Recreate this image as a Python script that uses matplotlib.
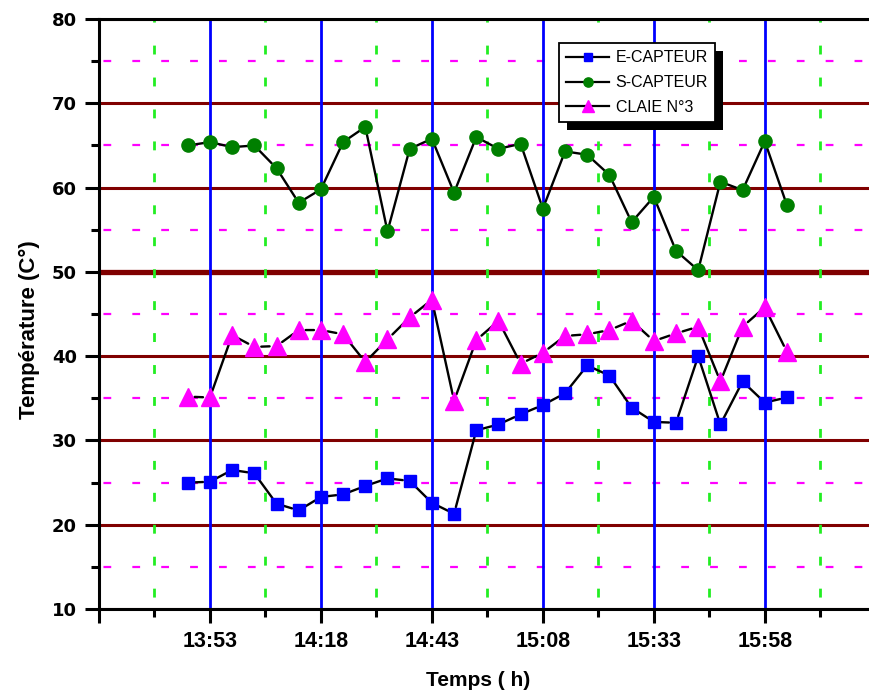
# Températures E-CAPTEUR / S-CAPTEUR / CLAIE N°3 en fonction du temps
import numpy as np
import matplotlib.pyplot as plt
from matplotlib.ticker import MultipleLocator, AutoMinorLocator
from matplotlib.lines import Line2D
from matplotlib.patches import Rectangle
from matplotlib.transforms import IdentityTransform

# Data
times = ['13:48', '13:53', '13:58', '14:03', '14:08', '14:13', '14:18', '14:23',
         '14:28', '14:33', '14:38', '14:43', '14:48', '14:53', '14:58', '15:03',
         '15:08', '15:13', '15:18', '15:23', '15:28', '15:33', '15:38', '15:43',
         '15:48', '15:53', '15:58', '16:03']
e_capteur = [25.0, 25.1, 26.5, 26.1, 22.5, 21.7, 23.3, 23.6, 24.6, 25.5, 25.2, 22.6,
             21.3, 31.2, 31.9, 33.1, 34.2, 35.6, 38.9, 37.7, 33.9, 32.2, 32.1, 40.0,
             31.9, 37.0, 34.5, 35.1]
s_capteur = [65.0, 65.4, 64.8, 65.0, 62.3, 58.2, 59.8, 65.4, 67.2, 54.8, 64.6, 65.8,
             59.4, 66.0, 64.6, 65.2, 57.5, 64.3, 63.9, 61.5, 55.9, 58.9, 52.5, 50.2,
             60.7, 59.7, 65.5, 57.9]
claie = [35.2, 35.1, 42.5, 41.1, 41.2, 43.1, 43.1, 42.6, 39.3, 42.0, 44.6, 46.7,
         34.7, 41.9, 44.2, 39.1, 40.4, 42.4, 42.6, 43.1, 44.2, 41.8, 42.7, 43.5,
         37.0, 43.5, 45.8, 40.5]
series_names = ['E-CAPTEUR', 'S-CAPTEUR', 'CLAIE N°3']
tick_times = ['13:28', '13:53', '14:18', '14:43', '15:08', '15:33', '15:58', '16:23']
tick_labels = ['', '13:53', '14:18', '14:43', '15:08', '15:33', '15:58', '']


def to_min(s):
    h, m = s.split(':')
    return int(h) * 60 + int(m)


x = np.array([to_min(t) for t in times])
xticks = [to_min(t) for t in tick_times]

sans = 'Liberation Sans'

fig = plt.figure(figsize=(8.69, 6.95), dpi=100)
# axes run past the right edge of the figure, as in the (cropped) original
ax = fig.add_axes([0.1139, 0.1237, 0.9194, 0.8489])
ax.set_xlim(to_min('13:28'), to_min('16:28'))
ax.set_ylim(10, 80)

# grids
ax.set_axisbelow(True)
ax.yaxis.set_zorder(0.5)
ax.xaxis.set_zorder(0.6)
ax.yaxis.set_major_locator(MultipleLocator(10))
ax.yaxis.set_minor_locator(AutoMinorLocator(2))
ax.set_xticks(xticks, tick_labels)
ax.xaxis.set_minor_locator(AutoMinorLocator(2))
ax.grid(which='major', axis='y', color='#800000', lw=2.2)
ax.grid(which='minor', axis='y', color='#ff00ff', lw=1.6, ls=(11.0, (3.5, 9.5)))
ax.grid(which='major', axis='x', color='#0000ff', lw=2.0)
ax.grid(which='minor', axis='x', color='#22ee22', lw=2.0, ls=(7.2, (3.2, 8.3)))
ax.axhline(50, color='#800000', lw=3.8, zorder=0.55)

# data: black connecting lines with small gaps at the markers, then markers
styles = [('s', 8.5, '#0000ff'), ('o', 9.5, '#007f00'), ('^', 12.5, '#ff00ff')]
for ys, (mk, ms, col) in zip([e_capteur, s_capteur, claie], styles):
    for i in range(len(x) - 1):
        ax.annotate('', xy=(x[i + 1], ys[i + 1]), xytext=(x[i], ys[i]),
                    arrowprops=dict(arrowstyle='-', color='k', lw=1.7,
                                    shrinkA=5, shrinkB=5), zorder=3)
    ax.plot(x, ys, ls='none', marker=mk, ms=ms, mfc=col, mec=col, zorder=4)

# axes styling
for s in ['left', 'bottom', 'top']:
    ax.spines[s].set_linewidth(2.2)
ax.spines['right'].set_visible(False)
ax.tick_params(which='major', direction='out', length=10, width=2.2, pad=6)
ax.tick_params(which='minor', direction='out', length=6, width=2.2)
ax.tick_params(axis='x', which='both', top=False)
plt.setp(ax.get_yticklabels(), family='DejaVu Sans', weight='bold', size=13)
plt.setp(ax.get_xticklabels(), family=sans, weight='bold', size=15.5)

ax.set_xlabel('Temps ( h)', family=sans, weight='bold', size=15)
ax.xaxis.set_label_coords(0.474, -0.105)
ax.set_ylabel('Température (C°)', family=sans, weight='bold', size=16)
ax.yaxis.set_label_coords(-0.074, 0.473)

# legend with a hard black drop shadow
handles = [Line2D([0], [0], color='k', lw=1.6, marker=mk, ms=ms * 0.7, mfc=col, mec=col)
           for mk, ms, col in styles]
leg = ax.legend(handles, series_names, loc='upper left', bbox_to_anchor=(0.5757, 0.9593),
                borderaxespad=0, fancybox=False, framealpha=1, edgecolor='k',
                prop=dict(family=sans, size=11.5), borderpad=0.45, handlelength=2.7,
                handletextpad=0.4, labelspacing=0.62)
leg.get_frame().set_linewidth(1.3)
leg.set_zorder(10)

fig.canvas.draw()
bb = leg.get_frame().get_window_extent()
ax.add_patch(Rectangle((bb.x0 + 8, bb.y0 - 8), bb.width, bb.height, transform=IdentityTransform(),
                       fc='k', ec='none', zorder=9, clip_on=False))

fig.savefig('out.png', dpi=100)
